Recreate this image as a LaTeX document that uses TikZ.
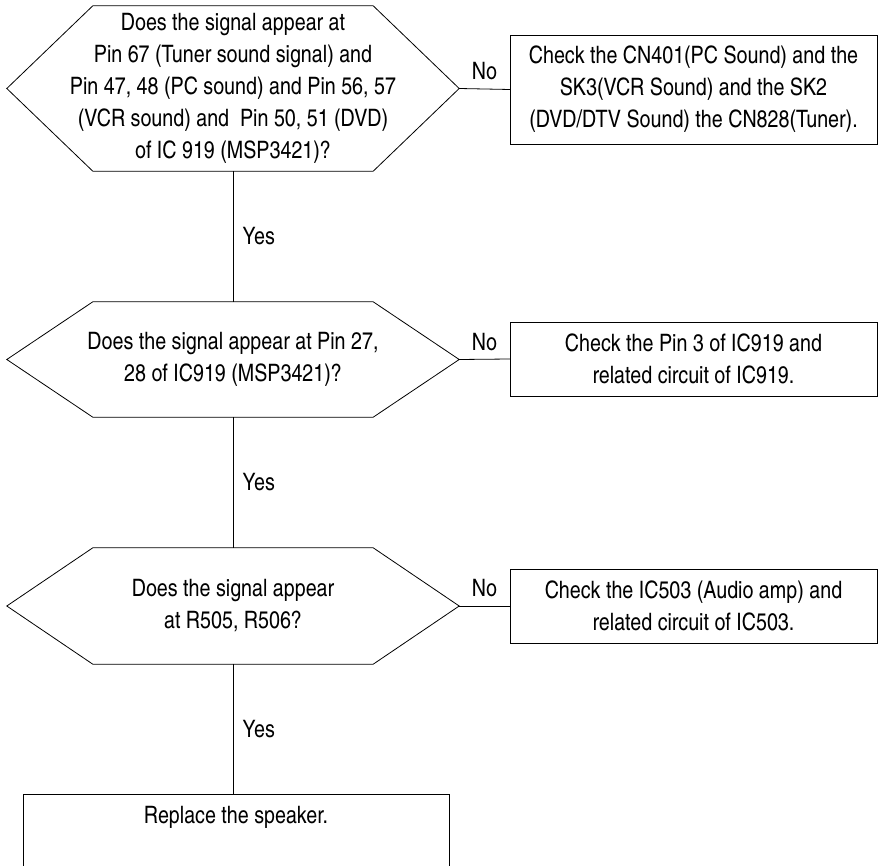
\documentclass[tikz,border=0pt]{standalone}
\usepackage{fontspec}
\setmainfont{TeX Gyre Heros Cn}
\usepackage{tikz}
\tikzset{x=1pt, y=-1pt,
    every node/.style={font=\fontsize{24}{32}\selectfont},
    query/.style={align=center, inner sep=0pt, minimum width=452pt},
    checkbox/.style={draw, align=center, inner sep=0pt, minimum width=367pt},
    flow/.style={line width=0.8pt},
    }
\newcommand{\hexframe}[1]{%
  \draw[flow] (#1.west) -- ([xshift=86pt]#1.north west) -- ([xshift=-86pt]#1.north east)
    -- (#1.east) -- ([xshift=-86pt]#1.south east) -- ([xshift=86pt]#1.south west) -- cycle;}

\begin{document}
\begin{tikzpicture}
	\useasboundingbox (0,0) rectangle (878,866);
	\clip (0,0) rectangle (878,866);
	% questions
	\node[query, minimum height=165pt] (qPins) at (233,88.5)
		{Does the signal appear at\\Pin 67 (Tuner sound signal) and\\
		 Pin 47, 48 (PC sound) and Pin 56, 57\\(VCR sound) and~ Pin 50, 51 (DVD)\\
		 of IC 919 (MSP3421)?};
	\node[query, minimum height=115pt] (qMsp) at (233,359.5)
		{Does the signal appear at Pin 27,\\28 of IC919 (MSP3421)?};
	\node[query, minimum height=116pt] (qAmp) at (233,606)
		{Does the signal appear\\at R505, R506?};
	\hexframe{qPins}
	\hexframe{qMsp}
	\hexframe{qAmp}
	% checks
	\node[checkbox, minimum height=109pt] (cInput) at (693.5,89.5)
		{Check the CN401(PC Sound) and the\\SK3(VCR Sound) and the SK2\\
		 (DVD/DTV Sound) the CN828(Tuner).};
	\node[checkbox, minimum height=74pt] (cMsp) at (693.5,359)
		{Check the Pin 3 of IC919 and\\related circuit of IC919.};
	\node[checkbox, minimum height=74pt] (cAmp) at (693.5,606)
		{Check the IC503 (Audio amp) and\\related circuit of IC503.};
	\node[draw, line width=0.8pt, anchor=north, minimum width=426pt, inner sep=0pt,
		text height=29pt, text depth=61pt] (speaker) at (236,794) {Replace the speaker.};
	% connectors
	\draw[flow] (qPins.east) -- node[above=5pt] (noA) {No} (cInput.west);
	\draw[flow] (qMsp.east) -- node[above=5pt] (noB) {No} (cMsp.west);
	\draw[flow] (qAmp.east) -- node[above=5pt] (noC) {No} (cAmp.west);
	\draw[flow] (qPins.south) -- node[right=6pt] (yesA) {Yes} (qMsp.north);
	\draw[flow] (qMsp.south) -- node[right=6pt] (yesB) {Yes} (qAmp.north);
	\draw[flow] (qAmp.south) -- node[right=6pt] (yesC) {Yes} (qAmp.south |- speaker.north);
\end{tikzpicture}
\end{document}
